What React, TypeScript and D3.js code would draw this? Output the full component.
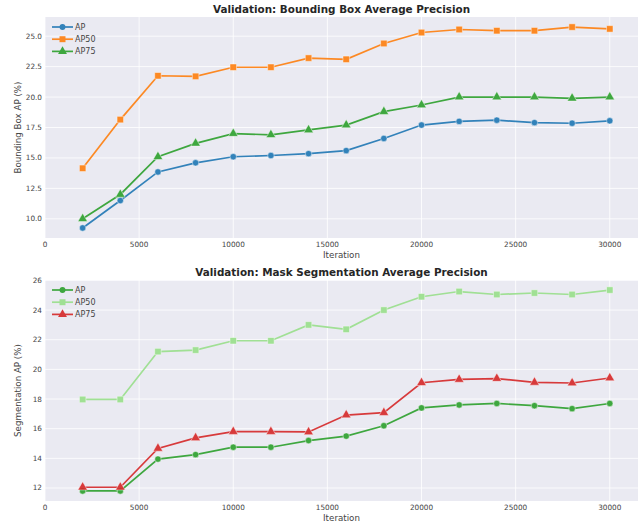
import { useEffect, useRef } from 'react'
import * as d3 from 'd3'

const iterations = [2000, 4000, 6000, 8000, 10000, 12000, 14000, 16000, 18000, 20000, 22000, 24000, 26000, 28000, 30000]

const bboxAP = [9.25, 11.5, 13.85, 14.6, 15.1, 15.2, 15.35, 15.6, 16.6, 17.7, 18.0, 18.1, 17.9, 17.85, 18.05]
const bboxAP50 = [14.15, 18.15, 21.75, 21.7, 22.45, 22.45, 23.2, 23.1, 24.4, 25.3, 25.55, 25.45, 25.45, 25.75, 25.6]
const bboxAP75 = [10.0, 12.0, 15.1, 16.2, 17.0, 16.9, 17.3, 17.7, 18.8, 19.35, 20.0, 20.0, 20.0, 19.9, 20.0]

const segmAP = [11.8, 11.8, 13.95, 14.25, 14.75, 14.75, 15.2, 15.5, 16.2, 17.4, 17.6, 17.7, 17.55, 17.35, 17.7]
const segmAP50 = [17.97, 17.97, 21.2, 21.3, 21.93, 21.93, 23.0, 22.7, 24.0, 24.9, 25.25, 25.05, 25.15, 25.05, 25.35]
const segmAP75 = [12.05, 12.05, 14.67, 15.38, 15.8, 15.8, 15.78, 16.92, 17.08, 19.1, 19.32, 19.38, 19.12, 19.08, 19.42]

const xTicks = [0, 5000, 10000, 15000, 20000, 25000, 30000]
const bboxTicks = [10, 12.5, 15, 17.5, 20, 22.5, 25]
const segmTicks = [12, 14, 16, 18, 20, 22, 24, 26]

type Series = { name: string; values: number[]; color: string; marker: 'circle' | 'square' | 'triangle' }

const panels = [
  {
    title: 'Validation: Bounding Box Average Precision',
    ylabel: 'Bounding Box AP (%)',
    top: 17,
    bottom: 238,
    yTicks: bboxTicks,
    yFmt: d3.format('.1f'),
    series: [
      { name: 'AP', values: bboxAP, color: '#1f77b4', marker: 'circle' },
      { name: 'AP50', values: bboxAP50, color: '#ff7f0e', marker: 'square' },
      { name: 'AP75', values: bboxAP75, color: '#2ca02c', marker: 'triangle' },
    ] as Series[],
  },
  {
    title: 'Validation: Mask Segmentation Average Precision',
    ylabel: 'Segmentation AP (%)',
    top: 280,
    bottom: 501,
    yTicks: segmTicks,
    yFmt: d3.format('d'),
    series: [
      { name: 'AP', values: segmAP, color: '#2ca02c', marker: 'circle' },
      { name: 'AP50', values: segmAP50, color: '#98df8a', marker: 'square' },
      { name: 'AP75', values: segmAP75, color: '#d62728', marker: 'triangle' },
    ] as Series[],
  },
]

const LEFT = 45
const RIGHT = 638
const FONT = 'DejaVu Sans, sans-serif'
const TEXT = '#444'

function markerPath(kind: string, scale = 1) {
  const sym = kind === 'circle' ? d3.symbolCircle : kind === 'square' ? d3.symbolSquare : d3.symbolTriangle
  const size = kind === 'triangle' ? 40 : kind === 'square' ? 42 : 32
  return d3.symbol(sym, size * scale)()
}

export default function App() {
  const ref = useRef<SVGSVGElement>(null)

  useEffect(() => {
    const svg = d3.select(ref.current)
    svg.selectAll('*').remove()

    const x = d3.scaleLinear().domain([0, 31500]).range([LEFT, RIGHT])

    panels.forEach((p) => {
      const all = p.series.flatMap((s) => s.values)
      const lo = d3.min(all)!, hi = d3.max(all)!
      const pad = (hi - lo) * 0.05
      const y = d3.scaleLinear().domain([lo - pad, hi + pad]).range([p.bottom, p.top])
      const g = svg.append('g')

      g.append('rect')
        .attr('x', LEFT).attr('y', p.top)
        .attr('width', RIGHT - LEFT).attr('height', p.bottom - p.top)
        .attr('fill', '#eaeaf2')

      g.selectAll('.gx').data(xTicks).enter().append('line')
        .attr('x1', (d) => x(d)).attr('x2', (d) => x(d))
        .attr('y1', p.top).attr('y2', p.bottom)
        .attr('stroke', '#fff').attr('stroke-width', 0.8)
      g.selectAll('.gy').data(p.yTicks.filter((t) => y(t) >= p.top - 0.5)).enter().append('line')
        .attr('x1', LEFT).attr('x2', RIGHT)
        .attr('y1', (d) => y(d)).attr('y2', (d) => y(d))
        .attr('stroke', '#fff').attr('stroke-width', 0.8)

      g.selectAll('.tx').data(xTicks).enter().append('text')
        .attr('x', (d) => x(d)).attr('y', p.bottom + 6)
        .attr('text-anchor', 'middle').attr('dominant-baseline', 'central')
        .attr('font-size', 7.3).attr('font-family', FONT).attr('fill', TEXT)
        .text((d) => String(d))
      g.selectAll('.ty').data(p.yTicks).enter().append('text')
        .attr('x', LEFT - 3).attr('y', (d) => y(d))
        .attr('text-anchor', 'end').attr('dominant-baseline', 'central')
        .attr('font-size', 7.3).attr('font-family', FONT).attr('fill', TEXT)
        .text((d) => p.yFmt(d))

      g.append('text')
        .attr('x', (LEFT + RIGHT) / 2).attr('y', p.bottom + 17)
        .attr('text-anchor', 'middle').attr('dominant-baseline', 'central')
        .attr('font-size', 8.7).attr('font-family', FONT).attr('fill', TEXT)
        .text('Iteration')
      g.append('text')
        .attr('transform', `translate(18,${(p.top + p.bottom) / 2}) rotate(-90)`)
        .attr('text-anchor', 'middle').attr('dominant-baseline', 'central')
        .attr('font-size', 8.7).attr('font-family', FONT).attr('fill', TEXT)
        .text(p.ylabel)
      g.append('text')
        .attr('x', (LEFT + RIGHT) / 2).attr('y', p.top - 8)
        .attr('text-anchor', 'middle').attr('dominant-baseline', 'central')
        .attr('font-size', 10.4).attr('font-weight', 'bold').attr('font-family', FONT).attr('fill', '#262626')
        .text(p.title)

      const line = d3.line<number>().x((_, i) => x(iterations[i])).y((d) => y(d))
      p.series.forEach((s) => {
        const sg = g.append('g').attr('opacity', 0.9)
        sg.append('path').attr('d', line(s.values)).attr('fill', 'none')
          .attr('stroke', s.color).attr('stroke-width', 1.7)
        sg.selectAll('path.m').data(s.values).enter().append('path')
          .attr('class', 'm')
          .attr('d', markerPath(s.marker))
          .attr('transform', (d, i) => `translate(${x(iterations[i])},${y(d)})`)
          .attr('fill', s.color).attr('stroke', '#fff').attr('stroke-opacity', 0.45).attr('stroke-width', 1)
      })

      p.series.forEach((s, i) => {
        const ly = p.top + 10 + i * 12.2
        const lg = g.append('g').attr('opacity', 0.9)
        lg.append('line').attr('x1', 52).attr('x2', 73).attr('y1', ly).attr('y2', ly)
          .attr('stroke', s.color).attr('stroke-width', 1.7)
        lg.append('path').attr('d', markerPath(s.marker, 0.85))
          .attr('transform', `translate(62.5,${ly})`).attr('fill', s.color)
        g.append('text').attr('x', 75).attr('y', ly)
          .attr('dominant-baseline', 'central')
          .attr('font-size', 8).attr('font-family', FONT).attr('fill', TEXT)
          .text(s.name)
      })
    })
  }, [])

  return (
    <svg ref={ref} width={639} height={524}
      style={{ position: 'absolute', left: 0, top: 0, background: '#fff' }} />
  )
}
